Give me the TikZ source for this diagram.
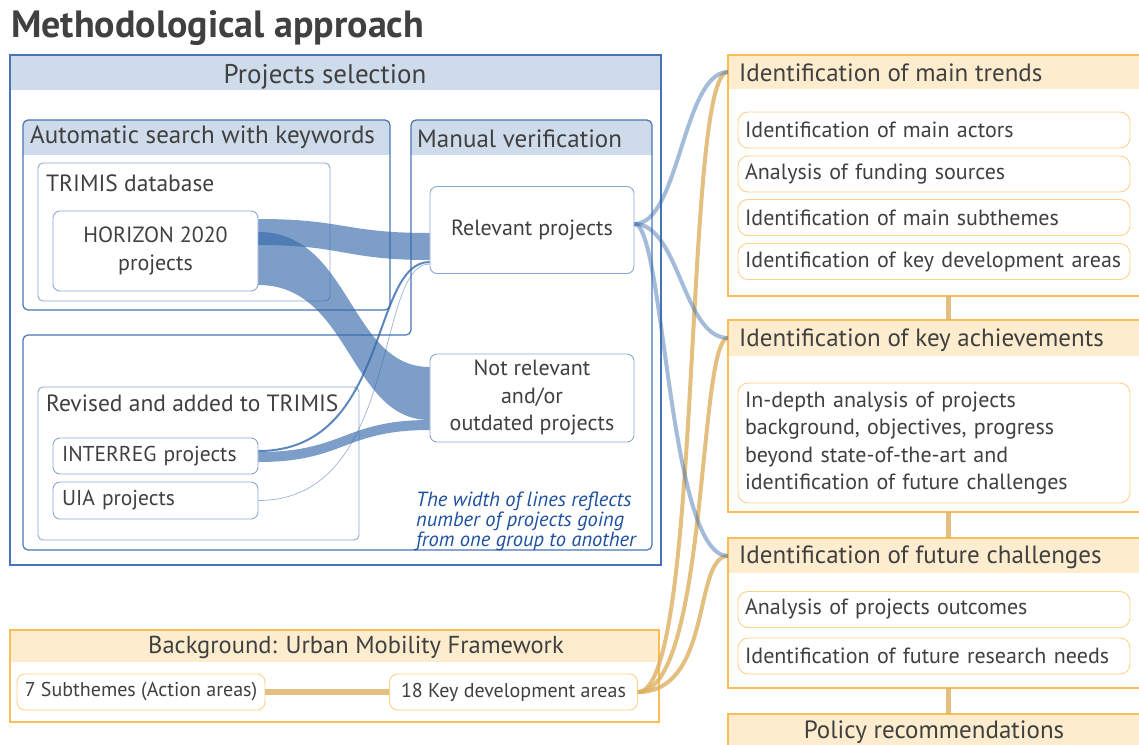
\documentclass[tikz,border=0pt]{standalone}
\usepackage{fontspec}
\setmainfont{PT Sans}
\usetikzlibrary{calc}

\definecolor{selblue}{RGB}{70,116,182}
\definecolor{headblue}{RGB}{206,219,234}
\definecolor{lineblue}{RGB}{138,168,212}
\definecolor{flowblue}{RGB}{54,106,171}
\definecolor{noteblue}{RGB}{30,80,160}
\definecolor{frameorange}{RGB}{250,190,85}
\definecolor{itemorange}{RGB}{252,210,135}
\definecolor{headorange}{RGB}{253,236,206}
\definecolor{gold}{RGB}{220,176,95}
\definecolor{textgrey}{RGB}{64,64,64}

\begin{document}
\begin{tikzpicture}
  [%%%%%%%%%%%%%%%%%%%%%%%%%%%%%%
  x=1pt, y=-1pt,
  every node/.style={text=textgrey, font=\fontsize{22}{27.5}\selectfont},
  lbl/.style={anchor=base west, inner sep=0pt},
  sublbl/.style={lbl, font=\fontsize{23.5}{28}\selectfont},
  headlbl/.style={lbl, font=\fontsize{25}{28}\selectfont},
  bluebox/.style={draw=lineblue, line width=0.9pt, fill=white, rounded corners=7, align=center},
  smallbox/.style={bluebox, minimum width=205pt, text width=187pt, align=left, font=\fontsize{21.5}{26}\selectfont},
  orgitem/.style={draw=itemorange, line width=0.9pt, fill=white, rounded corners=10, minimum width=392pt,
    minimum height=36pt, inner xsep=7pt, text width=378pt, align=left},
  bgitem/.style={draw=itemorange, line width=0.9pt, fill=white, rounded corners=8, minimum width=248pt, minimum height=36pt,
    font=\fontsize{20}{24}\selectfont},
  band/.style={fill=flowblue, fill opacity=0.65},
  bluelink/.style={draw=flowblue, line width=4pt, opacity=0.45},
  goldlink/.style={draw=gold, line width=4pt, opacity=0.8},
  ]%%%%%%%%%%%%%%%%%%%%%%%%%%%%%%

  \useasboundingbox (0,0) rectangle (1139,744);

  \node[lbl, font=\bfseries\fontsize{38}{42}\selectfont] (title) at (11,37) {Methodological approach};

  % projects selection panel
  \fill[headblue] (10,55) rectangle (661,90);
  \draw[selblue, line width=1.2pt] (10,55) rectangle (661,565);
  \node[anchor=base, inner sep=0pt, font=\fontsize{27}{30}\selectfont] (selhead) at (325,83) {Projects selection};

  \begin{scope}
    \clip (23,120) rectangle (390,154);
    \fill[headblue, rounded corners=5] (23,120) rectangle (390,310);
  \end{scope}
  \draw[selblue, line width=1.2pt, rounded corners=5] (23,120) rectangle (390,310);

  \begin{scope}
    \clip (411,120) rectangle (652,154);
    \fill[headblue, rounded corners=5] (411,120) rectangle (652,310);
  \end{scope}
  \draw[selblue, line width=1.2pt, rounded corners=5]
    (411,120) -- (652,120) -- (652,550) -- (23,550) -- (23,335) -- (411,335) -- cycle;

  \draw[lineblue, line width=0.9pt, rounded corners=5] (38,163) rectangle (330,301);
  \draw[lineblue, line width=0.9pt, rounded corners=5] (38,387) rectangle (359,540);

  \node[headlbl] (autohead) at (30,143) {Automatic search with keywords};
  \node[headlbl] (manhead) at (417,147) {Manual verification};
  \node[sublbl] (trimis) at (46,191) {TRIMIS database};
  \node[sublbl] (revised) at (46,411) {Revised and added to TRIMIS};

  \node[bluebox, minimum width=205pt, minimum height=80pt] (h2020) at (155.5,251) {HORIZON 2020\\projects};
  \node[bluebox, minimum width=204pt, minimum height=87pt] (relevant) at (532,230) {Relevant projects};
  \node[bluebox, minimum width=204pt, minimum height=88pt] (notrel) at (532,398) {Not relevant\\and/or\\outdated projects};
  \node[smallbox, minimum height=36pt] (interreg) at (155.5,456) {INTERREG projects};
  \node[smallbox, minimum height=37pt] (uia) at (155.5,500.5) {UIA projects};

  \node[anchor=north west, inner sep=0pt, align=left, text=noteblue, font=\itshape\fontsize{20.5}{18}\selectfont]
    (note) at (416,492) {The width of lines reflects\\number of projects going\\from one group to another};

  % flows between project groups
  \fill[band] ($(h2020.east)+(0,-32)$) .. controls +(86,0) and +(-86,0) .. ($(relevant.west)+(0,3)$)
    -- ($(relevant.west)+(0,30)$) .. controls +(-86,0) and +(86,0) .. ($(h2020.east)+(0,-6)$) -- cycle;
  \fill[band] ($(h2020.east)+(0,-19)$) .. controls +(92,0) and +(-80,0) .. ($(notrel.west)+(0,-31)$)
    -- ($(notrel.west)+(0,22)$) .. controls +(-80,0) and +(92,0) .. ($(h2020.east)+(0,34)$) -- cycle;
  \fill[band] ($(interreg.east)+(0,-4)$) .. controls +(86,0) and +(-86,0) .. ($(notrel.west)+(0,22)$)
    -- ($(notrel.west)+(0,32)$) .. controls +(-86,0) and +(86,0) .. ($(interreg.east)+(0,6)$) -- cycle;
  \draw[flowblue, line width=2pt, opacity=0.8] ($(interreg.east)+(0,-5)$) .. controls +(132,0) and +(-60,0) .. ($(relevant.west)+(0,32)$);
  \draw[flowblue, line width=0.7pt, opacity=0.5] (uia.east) .. controls +(142,0) and +(-55,0) .. ($(relevant.west)+(0,34)$);

  % background panel
  \fill[headorange] (10,630) rectangle (659,662);
  \draw[frameorange, line width=1.2pt] (10,630) rectangle (659,722);
  \node[anchor=base, inner sep=0pt, font=\fontsize{24.5}{28}\selectfont] (bghead) at (356,653) {Background: Urban Mobility Framework};
  \node[bgitem] (subth) at (141,692) {7 Subthemes (Action areas)};
  \node[bgitem] (kda) at (513.5,692) {18 Key development areas};
  \draw[goldlink, line width=6pt] (subth.east) -- (kda.west);

  % analysis steps
  \fill[headorange] (728,55) rectangle (1150,89);
  \draw[frameorange, line width=1.2pt] (728,55) rectangle (1150,296);
  \fill[headorange] (728,320) rectangle (1150,356);
  \draw[frameorange, line width=1.2pt] (728,320) rectangle (1150,512);
  \fill[headorange] (728,538) rectangle (1150,573);
  \draw[frameorange, line width=1.2pt] (728,538) rectangle (1150,688);
  \fill[headorange] (728,714) rectangle (1150,760);
  \draw[frameorange, line width=1.2pt] (728,714) rectangle (1150,760);

  \node[headlbl] (trends) at (739,81) {Identification of main trends};
  \node[headlbl] (achieve) at (739,346) {Identification of key achievements};
  \node[headlbl] (future) at (739,563) {Identification of future challenges};
  \node[anchor=base, inner sep=0pt, font=\fontsize{25}{28}\selectfont] (policy) at (934,738) {Policy recommendations};

  \node[orgitem] (actors) at (934,130) {Identification of main actors};
  \node[orgitem] (funding) at (934,174) {Analysis of funding sources};
  \node[orgitem] (subthemes) at (934,217.5) {Identification of main subthemes};
  \node[orgitem] (kdareas) at (934,261.5) {Identification of key development areas};
  \node[orgitem, minimum height=120pt] (indepth) at (934,443)
    {In-depth analysis of projects\\background, objectives, progress\\beyond state-of-the-art and\\identification of future challenges};
  \node[orgitem] (outcomes) at (934,609.5) {Analysis of projects outcomes};
  \node[orgitem] (needs) at (934,656) {Identification of future research needs};

  \coordinate (trendsin) at (728,72);
  \coordinate (achievein) at (728,338);
  \coordinate (futurein) at (728,556);
  \coordinate (trendsend) at (948,296);
  \coordinate (achievetop) at (948,320);
  \coordinate (achieveend) at (948,512);
  \coordinate (futuretop) at (948,538);
  \coordinate (futureend) at (948,688);
  \coordinate (policytop) at (948,714);

  \draw[goldlink, line width=5pt] (trendsend) -- (achievetop);
  \draw[goldlink, line width=5pt] (achieveend) -- (futuretop);
  \draw[goldlink, line width=5pt] (futureend) -- (policytop);

  % links into the analysis steps
  \draw[goldlink] (kda.east) .. controls +(65,0) and +(-45,0) .. (trendsin);
  \draw[goldlink] (kda.east) .. controls +(70,0) and +(-30,0) .. (achievein);
  \draw[goldlink] (kda.east) .. controls +(75,0) and +(-35,0) .. (futurein);
  \draw[bluelink] ($(relevant.east)+(0,-6)$) .. controls +(45,0) and +(-45,0) .. (trendsin);
  \draw[bluelink] ($(relevant.east)+(0,-6)$) .. controls +(45,0) and +(-45,0) .. (achievein);
  \draw[bluelink] ($(relevant.east)+(0,-6)$) .. controls +(30,0) and +(-60,0) .. (futurein);
\end{tikzpicture}
\end{document}
